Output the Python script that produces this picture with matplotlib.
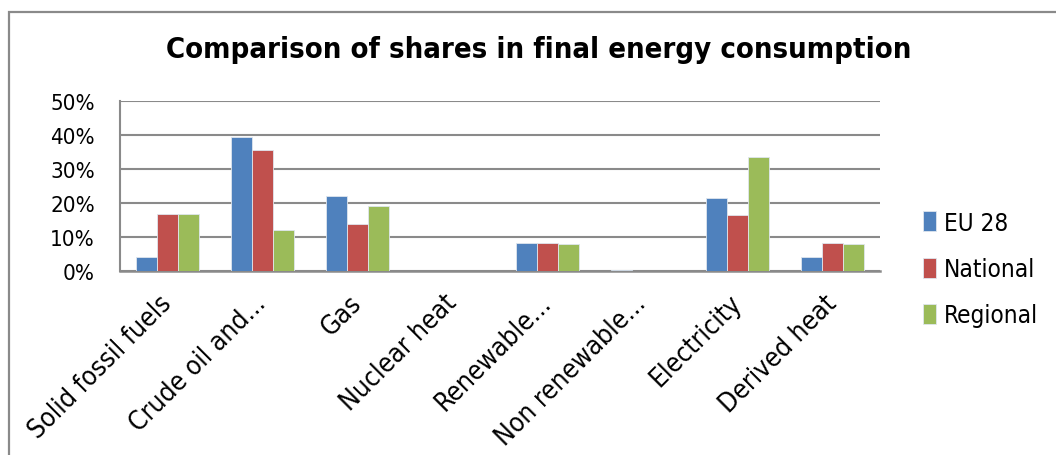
import numpy as np
import matplotlib.pyplot as plt
from matplotlib.patches import Rectangle

categories = ['Solid fossil fuels', 'Crude oil and...', 'Gas', 'Nuclear heat',
              'Renewable...', 'Non renewable...', 'Electricity', 'Derived heat']
eu28 = [4.0, 39.3, 22.0, 0.0, 8.1, 0.3, 21.5, 4.2]
national = [16.7, 35.5, 13.8, 0.0, 8.2, 0.0, 16.4, 8.2]
regional = [16.9, 12.2, 19.1, 0.0, 7.9, 0.0, 33.4, 7.9]
series = [('EU 28', eu28, '#4F81BD'), ('National', national, '#C0504D'),
          ('Regional', regional, '#9BBB59')]

plt.rcParams['font.family'] = ['DejaVu Sans']
plt.rcParams['font.stretch'] = 'condensed'

W, H = 1056, 456
fig = plt.figure(figsize=(W / 100, H / 100), dpi=100)
fig.patch.set_facecolor('white')
# chart frame: only left and top edges fall inside the picture
fig.add_artist(Rectangle((8.5 / W, -0.1), 1.2, 1 - 12.5 / H + 0.1,
                         transform=fig.transFigure, fill=False,
                         edgecolor='#8a8a8a', linewidth=1.6))

ax = fig.add_axes([120 / W, 1 - 272 / H, 760 / W, 170 / H])
x = np.arange(len(categories))
bw = 0.22
for i, (name, vals, col) in enumerate(series):
    ax.bar(x + (i - 1) * bw, vals, bw, color=col, edgecolor='#dfe6ee',
           linewidth=0.6, label=name, zorder=3)

ax.set_xlim(-0.5, len(categories) - 0.5)
ax.set_ylim(0, 50)
ax.set_yticks(range(0, 51, 10))
ax.set_yticklabels([f'{v}%' for v in range(0, 51, 10)], fontsize=16)
ax.grid(axis='y', color='#8a8a8a', linewidth=1.5, zorder=0)
for s in ['top', 'right']:
    ax.spines[s].set_visible(False)
ax.spines['left'].set_color('#8a8a8a')
ax.spines['left'].set_linewidth(1.5)
ax.spines['bottom'].set_color('#8a8a8a')
ax.spines['bottom'].set_linewidth(1.8)
ax.tick_params(axis='y', length=0, pad=18)
ax.tick_params(axis='x', length=0, pad=20)
ax.set_xticks(x)
ax.set_xticklabels(categories, rotation=45, ha='right', va='center',
                   rotation_mode='anchor', fontsize=19)

fig.text(539 / W, 1 - 50 / H, 'Comparison of shares in final energy consumption',
         ha='center', va='center', fontsize=21, fontweight='bold')

ax.legend(loc='center left', bbox_to_anchor=(901 / W, 1 - 270 / H),
          bbox_transform=fig.transFigure, frameon=False, fontsize=17.5,
          handlelength=0.55, handleheight=0.9, handletextpad=0.3, labelspacing=0.92)

fig.savefig('out.png', dpi=100, facecolor='white')
